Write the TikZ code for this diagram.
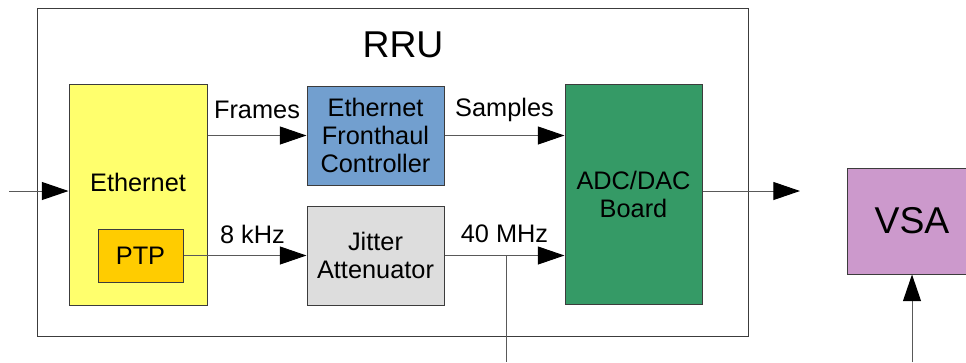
\documentclass[tikz,border=0pt]{standalone}
\usepackage{fontspec}
\setmainfont{Liberation Sans}
\usetikzlibrary{arrows.meta, positioning}
\definecolor{rruyellow}{HTML}{FFFF6D}
\definecolor{rruorange}{HTML}{FFCC00}
\definecolor{rrublue}{HTML}{729FCF}
\definecolor{rrugray}{HTML}{DDDDDD}
\definecolor{rrugreen}{HTML}{359A66}
\definecolor{rrupurple}{HTML}{CC99CC}
\definecolor{rruline}{HTML}{3C3C3C}
\tikzset{
  blkbox/.style={draw=rruline, line width=0.75pt, align=center, inner sep=0pt,
    font=\fontsize{19}{21}\selectfont},
  bigtext/.style={font=\fontsize{28}{32}\selectfont},
  siglabel/.style={font=\fontsize{19}{21}\selectfont, inner sep=0pt},
  wire/.style={draw=black!65, line width=0.75pt},
  sig/.style={wire, -{Triangle[length=20pt, width=13.5pt, color=black]}},
}

\begin{document}
\begin{tikzpicture}[x=0.75pt, y=-0.75pt]
  \useasboundingbox (0,0) rectangle (966,362);
  \clip (0,0) rectangle (966,362);
  % RRU
  \node[blkbox, fill=white, minimum width=533.25pt, minimum height=246pt] (rru) at (392.5,172) {};
  \node[bigtext] (rrutitle) at (403,45) {RRU};
  \node[blkbox, fill=rruyellow, minimum width=103.5pt, minimum height=165.75pt] (eth) at (138,194.5) {};
  \node[siglabel] (ethtext) at ([yshift=9.4pt]eth.center) {Ethernet};
  \node[blkbox, fill=rruorange, minimum width=63.75pt, minimum height=39.75pt] (ptp) at (140.5,255.5) {PTP};
  \node[blkbox, fill=rrublue, minimum width=102.75pt, minimum height=74.25pt] (efc) at (375.5,135.5) {Ethernet\\Fronthaul\\Controller};
  \node[blkbox, fill=rrugray, minimum width=102.75pt, minimum height=74.25pt] (jit) at (375.5,255.5) {Jitter\\Attenuator};
  \node[blkbox, fill=rrugreen, minimum width=102.75pt, minimum height=165pt] (adc) at (633.5,194) {ADC/DAC\\Board};
  % outside
  \node[blkbox, bigtext, fill=rrupurple, minimum width=97.5pt, minimum height=79.5pt] (vsa) at (912,221) {VSA};
  \coordinate (src) at (9,191);
  \coordinate (rf) at (800,191);
  \coordinate (tap) at (506,362);
  \coordinate (ref) at (912,362);
  \draw[sig] (src) -- (src -| eth.west);
  \draw[sig] (eth.east |- efc.west) -- (efc.west) node[siglabel, midway, yshift=19.5pt] {Frames};
  \draw[sig] (efc.east) -- (efc.east -| adc.west) node[siglabel, midway, yshift=19.5pt] {Samples};
  \draw[sig] (ptp.east) -- (jit.west) node[siglabel, pos=0.56, yshift=16pt] {8 kHz};
  \draw[sig] (jit.east) -- (jit.east -| adc.west) node[siglabel, midway, yshift=16pt] {40 MHz};
  \draw[wire] (tap |- jit.east) -- (tap);
  \draw[sig] (adc.east |- rf) -- (rf);
  \draw[sig] (ref) -- (vsa.south);
\end{tikzpicture}
\end{document}
